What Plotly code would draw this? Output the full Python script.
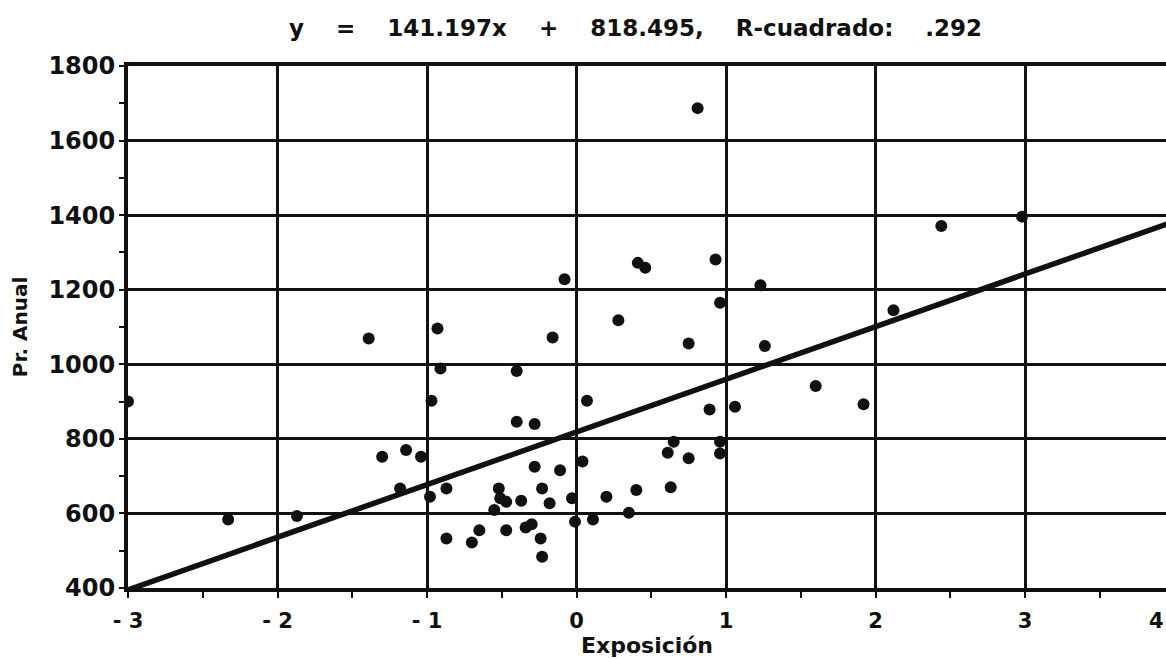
import plotly.graph_objects as go

# Data (Exposición vs Pr. Anual)
exposicion = [-3.00, -2.33, -1.87, -1.39, -1.30, -1.14, -1.04, -1.18, -0.98, -0.97,
              -0.93, -0.91, -0.87, -0.87, -0.70, -0.65, -0.55, -0.52, -0.51, -0.47,
              -0.47, -0.40, -0.40, -0.37, -0.34, -0.30, -0.28, -0.28, -0.24, -0.23,
              -0.23, -0.18, -0.16, -0.11, -0.08, -0.03, -0.01, 0.04, 0.07, 0.11,
              0.20, 0.28, 0.35, 0.40, 0.41, 0.46, 0.61, 0.63, 0.65, 0.75,
              0.75, 0.81, 0.89, 0.93, 0.96, 0.96, 0.96, 1.06, 1.23, 1.26,
              1.60, 1.92, 2.12, 2.44, 2.98]
pr_anual = [900, 584, 593, 1069, 752, 770, 752, 667, 645, 902,
            1096, 989, 667, 533, 522, 555, 609, 667, 641, 631,
            555, 846, 982, 634, 562, 571, 840, 725, 533, 667,
            484, 627, 1072, 716, 1228, 641, 578, 739, 902, 584,
            645, 1118, 602, 663, 1272, 1259, 763, 670, 792, 748,
            1056, 1687, 879, 1281, 1165, 761, 792, 886, 1212, 1049,
            942, 893, 1145, 1371, 1396]

slope = 141.197
intercept = 818.495
r2_text = ".292"

x_ticks = [-3, -2, -1, 0, 1, 2, 3, 4]
x_ticklabels = ["- 3", "- 2", "- 1", "0", "1", "2", "3", "4"]
y_ticks = [400, 600, 800, 1000, 1200, 1400, 1600, 1800]

x_min, x_max = -3, 3.943
fit_x = [x_min, 4]
fit_y = [slope * v + intercept for v in fit_x]

NB = "\u00a0"
sep = NB * 4
title_text = f"y{sep}={sep}{slope:.3f}x{sep}+{sep}{intercept:.3f},{sep}R-cuadrado:{sep}{r2_text}"

FONT = "DejaVu Sans"
INK = "#111111"
PLOT_L, PLOT_W = 128, 1166 - 128

fig = go.Figure()
fig.add_trace(go.Scatter(x=fit_x, y=fit_y, mode="lines",
                         line=dict(color=INK, width=5.5), showlegend=False,
                         hoverinfo="skip"))
fig.add_trace(go.Scatter(x=exposicion, y=pr_anual, mode="markers",
                         marker=dict(color=INK, size=12), showlegend=False))

fig.update_layout(
    width=1166, height=659,
    margin=dict(l=PLOT_L, r=0, t=66, b=71),
    paper_bgcolor="white", plot_bgcolor="white",
    font=dict(family=FONT, color=INK),
    xaxis=dict(
        range=[x_min, x_max], tickmode="array", tickvals=x_ticks,
        ticktext=x_ticklabels,
        tickfont=dict(family=FONT, size=21, color=INK, weight="bold"),
        ticklabelstandoff=6,
        showgrid=True, gridcolor=INK, gridwidth=2.5,
        showline=True, linecolor=INK, linewidth=4, mirror=True,
        ticks="outside", ticklen=5, tickwidth=2, tickcolor=INK,
        minor=dict(dtick=0.5, ticks="outside", ticklen=6, tickwidth=2,
                   tickcolor=INK, showgrid=False),
        zeroline=False,
        title=dict(text="Exposición", standoff=6,
                   font=dict(family=FONT, size=22, color=INK, weight="bold")),
    ),
    yaxis=dict(
        range=[400, 1800], tickmode="array", tickvals=y_ticks,
        tickfont=dict(family=FONT, size=24, color=INK, weight="bold"),
        showgrid=True, gridcolor=INK, gridwidth=2.5,
        showline=True, linecolor=INK, linewidth=4, mirror=False,
        ticks="outside", ticklen=4, tickwidth=2, tickcolor=INK,
        minor=dict(dtick=100, ticks="outside", ticklen=5, tickwidth=2,
                   tickcolor=INK, showgrid=False),
        zeroline=False,
        title=dict(text="Pr. Anual", standoff=16,
                   font=dict(family=FONT, size=20, color=INK, weight="bold")),
    ),
    annotations=[
        dict(text=title_text, xref="paper", yref="paper",
             x=(635 - PLOT_L) / PLOT_W, y=1.0, yshift=38,
             xanchor="center", yanchor="middle", showarrow=False,
             font=dict(family=FONT, size=23, color=INK, weight="bold")),
        dict(text="4", xref="paper", yref="paper",
             x=1.0, y=0, yshift=-33,
             xanchor="right", yanchor="middle", showarrow=False,
             font=dict(family=FONT, size=21, color=INK, weight="bold")),
    ],
)

fig.write_html("out.html")
